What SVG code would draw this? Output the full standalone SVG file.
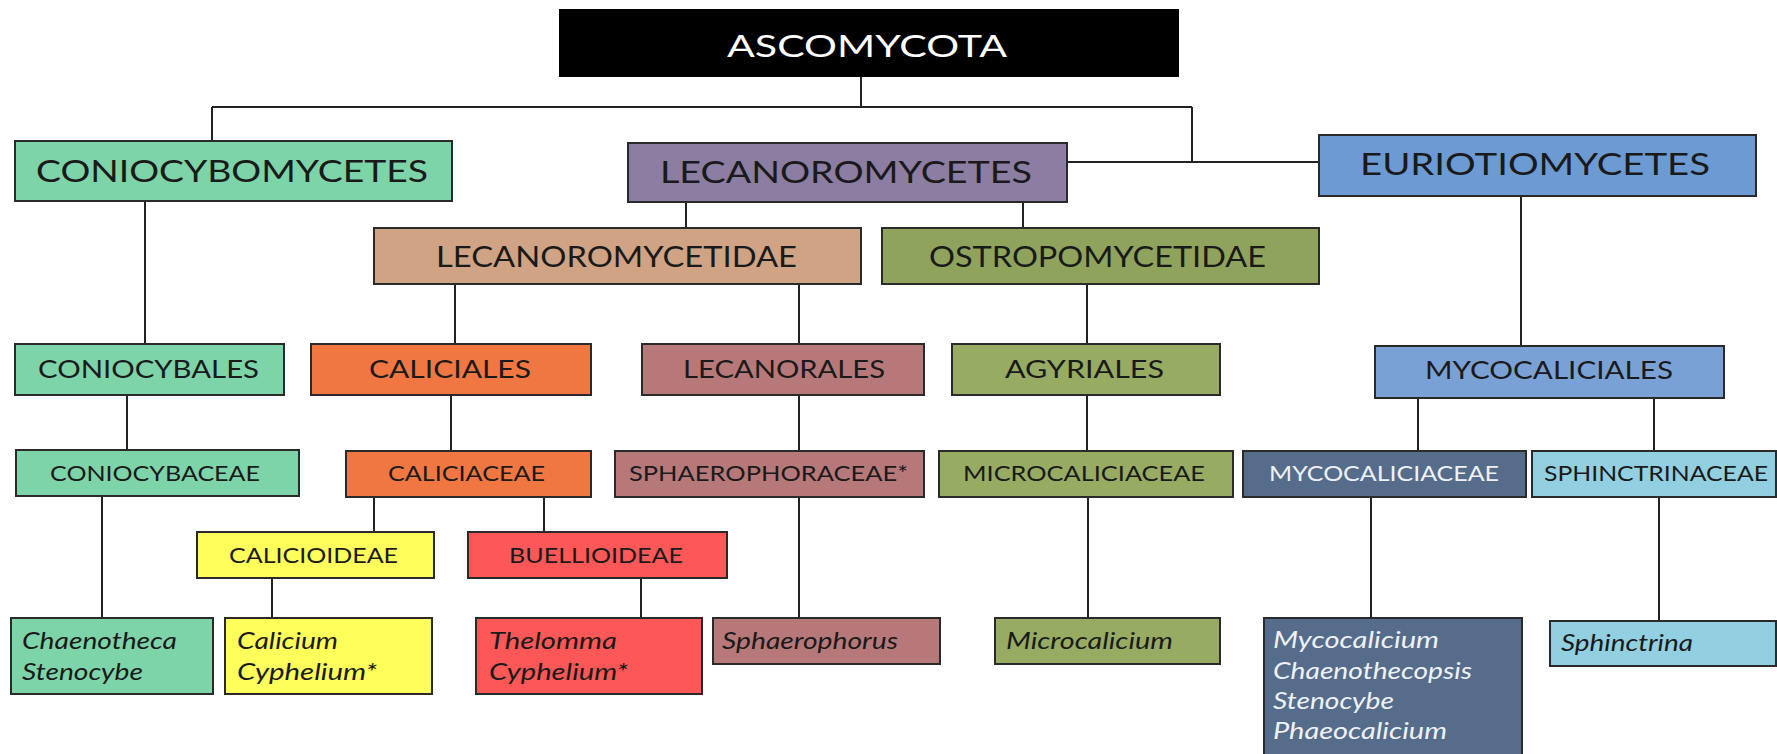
<svg xmlns="http://www.w3.org/2000/svg" width="1777" height="754" viewBox="0 0 1777 754">
<style>
.b{stroke:#2a2a2a;stroke-width:2}
.t{font-family:Lato,"Open Sans","Liberation Sans",sans-serif;fill:#1a1a1a}
.i{font-family:Lato,"Open Sans","Liberation Sans",sans-serif;font-style:italic;fill:#1a1a1a;font-size:23px}
.c{stroke:#222;stroke-width:2;fill:none}
.mint{fill:#7dd4a9}.purp{fill:#8c7da3}.blue{fill:#6c9bd3}.tan{fill:#cfa383}.olive{fill:#8fa35c}
.orng{fill:#f07741}.rose{fill:#b7787a}.olv2{fill:#97ab63}.lblu{fill:#7aa1d5}.slate{fill:#566c8b}
.cyan{fill:#92cfe0}.yel{fill:#ffff5c}.red{fill:#fd5757}
.w{fill:#eef1f6}
</style>
<rect width="1777" height="754" fill="#ffffff"/>
<g id="connectors">
<path class="c" d="M861 77V107M212 107H1192M212 107V141M1192 107V162M1067 162H1319"/>
<path class="c" d="M686 202V228M1023 202V228M145 201V344M1521 196V346"/>
<path class="c" d="M455 284V344M799 284V344M1087 284V344"/>
<path class="c" d="M127 395V450M451 395V451M799 395V451M1087 395V451M1418 398V451M1654 398V451"/>
<path class="c" d="M102 496V618M374 497V532M544 497V532M272 578V618M641 578V618M799 497V618M1088 497V618M1371 497V618M1659 497V621"/>
</g>
<g id="ascomycota"><rect x="559" y="9" width="620" height="68" fill="#000"/><text x="867" y="57" class="t" style="fill:#fff" font-size="31" text-anchor="middle" textLength="280" lengthAdjust="spacingAndGlyphs">ASCOMYCOTA</text></g>
<g id="coniocybomycetes"><rect x="15" y="141" width="437" height="60" class="b mint"/><text x="36" y="182" class="t" font-size="31" textLength="392" lengthAdjust="spacingAndGlyphs">CONIOCYBOMYCETES</text></g>
<g id="lecanoromycetes"><rect x="628" y="143" width="439" height="59" class="b purp"/><text x="660" y="183" class="t" font-size="31" textLength="372" lengthAdjust="spacingAndGlyphs">LECANOROMYCETES</text></g>
<g id="euriotiomycetes"><rect x="1319" y="135" width="437" height="61" class="b blue"/><text x="1360" y="175" class="t" font-size="31" textLength="350" lengthAdjust="spacingAndGlyphs">EURIOTIOMYCETES</text></g>
<g id="lecanoromycetidae"><rect x="374" y="228" width="487" height="56" class="b tan"/><text x="436" y="267" class="t" font-size="28" textLength="361" lengthAdjust="spacingAndGlyphs">LECANOROMYCETIDAE</text></g>
<g id="ostropomycetidae"><rect x="882" y="228" width="437" height="56" class="b olive"/><text x="929" y="267" class="t" font-size="28" textLength="337" lengthAdjust="spacingAndGlyphs">OSTROPOMYCETIDAE</text></g>
<g id="coniocybales"><rect x="15" y="344" width="269" height="51" class="b mint"/><text x="38" y="378" class="t" font-size="25" textLength="221" lengthAdjust="spacingAndGlyphs">CONIOCYBALES</text></g>
<g id="caliciales"><rect x="311" y="344" width="280" height="51" class="b orng"/><text x="369" y="378" class="t" font-size="25" textLength="162" lengthAdjust="spacingAndGlyphs">CALICIALES</text></g>
<g id="lecanorales"><rect x="642" y="344" width="282" height="51" class="b rose"/><text x="683" y="378" class="t" font-size="25" textLength="202" lengthAdjust="spacingAndGlyphs">LECANORALES</text></g>
<g id="agyriales"><rect x="952" y="344" width="268" height="51" class="b olv2"/><text x="1005" y="378" class="t" font-size="25" textLength="159" lengthAdjust="spacingAndGlyphs">AGYRIALES</text></g>
<g id="mycocaliciales"><rect x="1375" y="346" width="349" height="52" class="b lblu"/><text x="1425" y="379" class="t" font-size="25" textLength="248" lengthAdjust="spacingAndGlyphs">MYCOCALICIALES</text></g>
<g id="coniocybaceae"><rect x="16" y="450" width="283" height="46" class="b mint"/><text x="50" y="481" class="t" font-size="22" textLength="210" lengthAdjust="spacingAndGlyphs">CONIOCYBACEAE</text></g>
<g id="caliciaceae"><rect x="346" y="451" width="245" height="46" class="b orng"/><text x="388" y="481" class="t" font-size="22" textLength="157" lengthAdjust="spacingAndGlyphs">CALICIACEAE</text></g>
<g id="sphaerophoraceae"><rect x="615" y="451" width="309" height="46" class="b rose"/><text x="629" y="481" class="t" font-size="22" textLength="279" lengthAdjust="spacingAndGlyphs">SPHAEROPHORACEAE*</text></g>
<g id="microcaliciaceae"><rect x="939" y="451" width="294" height="46" class="b olv2"/><text x="963" y="481" class="t" font-size="22" textLength="242" lengthAdjust="spacingAndGlyphs">MICROCALICIACEAE</text></g>
<g id="mycocaliciaceae"><rect x="1243" y="451" width="283" height="46" class="b slate"/><text x="1269" y="481" class="t w" font-size="22" textLength="230" lengthAdjust="spacingAndGlyphs">MYCOCALICIACEAE</text></g>
<g id="sphinctrinaceae"><rect x="1532" y="451" width="244" height="46" class="b cyan"/><text x="1544" y="481" class="t" font-size="22" textLength="224" lengthAdjust="spacingAndGlyphs">SPHINCTRINACEAE</text></g>
<g id="calicioideae"><rect x="197" y="532" width="237" height="46" class="b yel"/><text x="229" y="563" class="t" font-size="22" textLength="169" lengthAdjust="spacingAndGlyphs">CALICIOIDEAE</text></g>
<g id="buellioideae"><rect x="468" y="532" width="259" height="46" class="b red"/><text x="509" y="563" class="t" font-size="22" textLength="174" lengthAdjust="spacingAndGlyphs">BUELLIOIDEAE</text></g>
<g id="chaenotheca"><rect x="11" y="618" width="202" height="76" class="b mint"/><text class="i"><tspan x="22" y="649" textLength="155" lengthAdjust="spacingAndGlyphs">Chaenotheca</tspan><tspan x="22" y="680" textLength="121" lengthAdjust="spacingAndGlyphs">Stenocybe</tspan></text></g>
<g id="calicium"><rect x="225" y="618" width="207" height="76" class="b yel"/><text class="i"><tspan x="237" y="649" textLength="101" lengthAdjust="spacingAndGlyphs">Calicium</tspan><tspan x="237" y="680" textLength="140" lengthAdjust="spacingAndGlyphs">Cyphelium*</tspan></text></g>
<g id="thelomma"><rect x="476" y="618" width="226" height="76" class="b red"/><text class="i"><tspan x="489" y="649" textLength="128" lengthAdjust="spacingAndGlyphs">Thelomma</tspan><tspan x="489" y="680" textLength="139" lengthAdjust="spacingAndGlyphs">Cyphelium*</tspan></text></g>
<g id="sphaerophorus"><rect x="713" y="618" width="227" height="46" class="b rose"/><text class="i" x="722" y="649" textLength="176" lengthAdjust="spacingAndGlyphs">Sphaerophorus</text></g>
<g id="microcalicium"><rect x="995" y="618" width="225" height="46" class="b olv2"/><text class="i" x="1006" y="649" textLength="167" lengthAdjust="spacingAndGlyphs">Microcalicium</text></g>
<g id="mycocalicium"><rect x="1264" y="618" width="258" height="140" class="b slate"/><text class="i w"><tspan x="1273" y="648" textLength="166" lengthAdjust="spacingAndGlyphs">Mycocalicium</tspan><tspan x="1273" y="679" textLength="199" lengthAdjust="spacingAndGlyphs">Chaenothecopsis</tspan><tspan x="1273" y="709" textLength="121" lengthAdjust="spacingAndGlyphs">Stenocybe</tspan><tspan x="1273" y="739" textLength="174" lengthAdjust="spacingAndGlyphs">Phaeocalicium</tspan></text></g>
<g id="sphinctrina"><rect x="1550" y="621" width="226" height="45" class="b cyan"/><text class="i" x="1561" y="651" textLength="132" lengthAdjust="spacingAndGlyphs">Sphinctrina</text></g>
</svg>
